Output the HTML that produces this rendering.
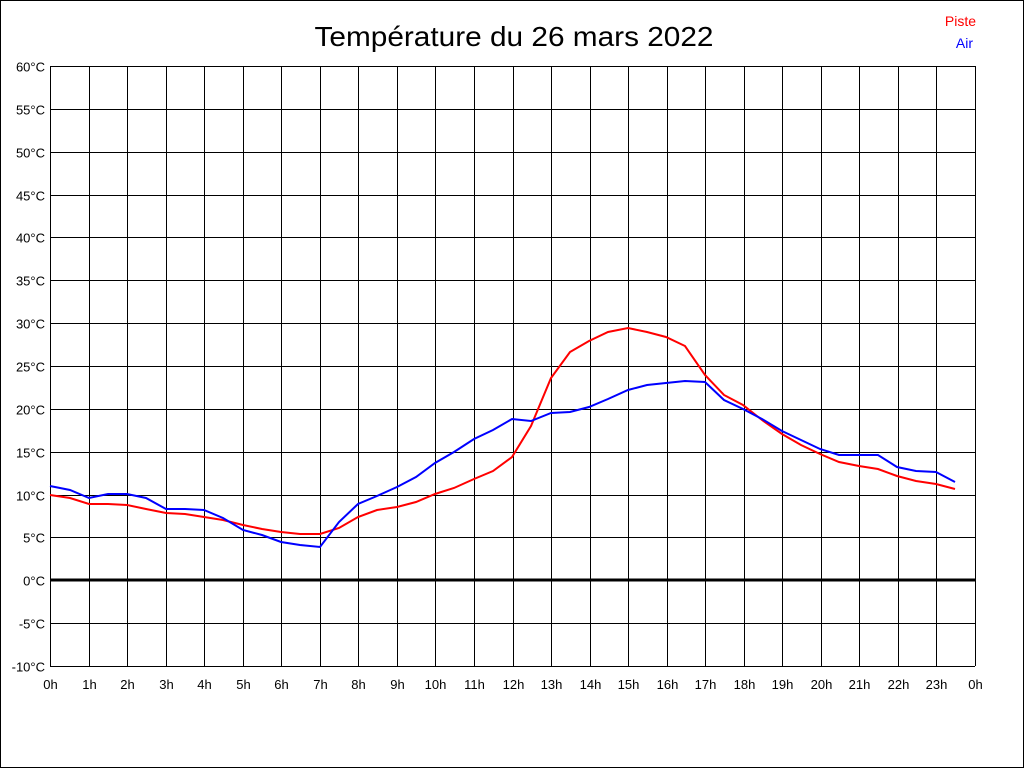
<!DOCTYPE html>
<html><head><meta charset="utf-8"><style>html,body{margin:0;padding:0;background:#fff}svg{display:block}</style></head>
<body>
<svg width="1024" height="768" xmlns="http://www.w3.org/2000/svg" font-family="Liberation Sans, sans-serif">
<rect x="0.5" y="0.5" width="1023" height="767" fill="#fff" stroke="#000"/>
<text x="514" y="46" font-size="28" text-anchor="middle" textLength="399" lengthAdjust="spacingAndGlyphs">Température du 26 mars 2022</text>
<text x="976" y="26" font-size="14" fill="#f00" text-anchor="end">Piste</text>
<text x="973" y="48" font-size="14" fill="#00f" text-anchor="end">Air</text>
<g id="grid" stroke="#000" stroke-width="1" shape-rendering="crispEdges"></g>
<g id="labels" font-size="13" fill="#000"></g>
<line x1="50" y1="580" x2="975" y2="580" stroke="#000" stroke-width="3"/>
<polyline fill="none" stroke="#f00" stroke-width="2" points="50,495 70,498 89,504 108,504 127,505 146,509 166,513 185,514 204,517 223,520 243,525 262,529 281,532 300,534 320,534 339,528 358,517 377,510 397,507 416,502 435,494 454,488 474,479 493,471 512,457 531,426 551,378 570,352 589,341 608,332 628,328 647,332 666,337 685,346 705,375 724,395 743,405 762,420 782,434 801,445 820,454 839,462 859,466 878,469 897,476 916,481 936,484 955,489"/>
<polyline fill="none" stroke="#00f" stroke-width="2" points="50,486 70,490 89,498 108,494 127,494 146,498 166,509 185,509 204,510 223,518 243,530 262,535 281,542 300,545 320,547 339,522 358,504 377,496 397,487 416,477 435,463 454,452 474,439 493,430 512,419 531,421 551,413 570,412 589,407 608,399 628,390 647,385 666,383 685,381 705,382 724,400 743,409 762,419 782,431 801,440 820,449 839,455 859,455 878,455 897,467 916,471 936,472 955,482"/>
</svg>
<script>
var g=document.getElementById('grid'),l=document.getElementById('labels'),ns='http://www.w3.org/2000/svg';
function ln(a,b,c,d){var e=document.createElementNS(ns,'line');e.setAttribute('x1',a);e.setAttribute('y1',b);e.setAttribute('x2',c);e.setAttribute('y2',d);g.appendChild(e);}
function tx(x,y,s,anc){var e=document.createElementNS(ns,'text');e.setAttribute('x',x);e.setAttribute('y',y);e.setAttribute('text-anchor',anc);e.textContent=s;l.appendChild(e);}
for(var i=0;i<=24;i++){var x=Math.round(50+i*925/24)+0.5;ln(x,66,x,666);tx(x,689,(i%24)+'h','middle');}
for(var j=0;j<=14;j++){var y=66+j*600/14;y=Math.round(y)+0.5;ln(50,y,975,y);tx(45,y+5,(60-5*j)+'°C','end');}
</script>
</body></html>
